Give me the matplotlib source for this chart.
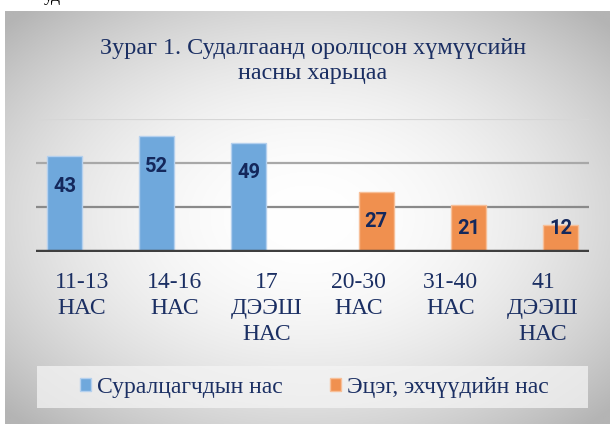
import numpy as np
import matplotlib
matplotlib.use("Agg")
import matplotlib.pyplot as plt
from matplotlib.patches import Patch, Rectangle
from matplotlib.font_manager import FontProperties

# ---- data ----
categories = ["11-13\nНАС", "14-16\nНАС", "17\nДЭЭШ\nНАС",
              "20-30\nНАС", "31-40\nНАС", "41\nДЭЭШ\nНАС"]
students = [43, 52, 49, 0, 0, 0]
parents = [0, 0, 0, 27, 21, 12]
series_names = ["Суралцагчдын нас", "Эцэг, эхчүүдийн нас"]
title = "Зураг 1. Судалгаанд оролцсон хүмүүсийн\nнасны харьцаа"
y_ticks = [0, 20, 40, 60]

plt.rcParams["font.family"] = ["Liberation Serif", "DejaVu Serif"]

W, H = 610, 424
fig = plt.figure(figsize=(W / 100, H / 100), dpi=100)
fig.patch.set_facecolor("white")

navy = "#1b2f63"
fp_cat = FontProperties(family="Liberation Serif", size=17)
fp_leg = FontProperties(family="Liberation Serif", size=17)
fp_title = FontProperties(family="Liberation Serif", size=17.4)
fp_lab = FontProperties(family="Roboto", weight="bold", size=14.5)

# ---- background panel with radial gradient ----
bg = fig.add_axes([5 / W, 0, 1 - 5 / W, 1 - 11 / H])
bg.set_axis_off()
xs = np.linspace(5, W, 400)
ys = np.linspace(11, H, 300)
X, Y = np.meshgrid(xs, ys)
dx = (X - 307) / 305
dy = (Y - 218) / 206
val = 255 - 40 * (dx ** 2 + dy ** 2)
val = np.clip(val, 180, 255) / 255.0
img = np.dstack([val, val, val])
bg.imshow(img, extent=[0, 1, 0, 1], aspect="auto", origin="upper")
bg.set_xlim(0, 1)
bg.set_ylim(0, 1)

# tiny clipped text fragment at very top
fig.text(44 / W, 1 - 1 / H, "уд", fontproperties=FontProperties(family="Liberation Serif", size=13),
         color="black", va="baseline", ha="left")

# ---- main axes ----
ax = fig.add_axes([36 / W, (H - 251.5) / H, (589 - 36) / W, (251.5 - 118.6) / H])
ax.patch.set_alpha(0)
x = np.arange(len(categories))
w = 0.38
b1 = ax.bar(x - w / 2, students, w, color="#6fa8dc", edgecolor="#b4d0ee",
            linewidth=1, zorder=3)
b2 = ax.bar(x + w / 2, parents, w, color="#f0904f", edgecolor="#f7bf98",
            linewidth=1, zorder=3)

ax.set_xlim(-0.5, len(categories) - 0.5)
ax.set_ylim(0, 60)
ax.set_yticks(y_ticks)
ax.tick_params(axis="y", length=0, labelleft=False)
ax.tick_params(axis="x", length=0, pad=15)
for s in ax.spines.values():
    s.set_visible(False)

grid_colors = {20: "#8a8a8a", 40: "#a8a8a8", 60: "#d6d6d6"}
for t in y_ticks[1:]:
    ax.axhline(t, color=grid_colors[t], lw=1.6, zorder=1)
ax.axhline(0, color="#3f3f3f", lw=3.2, zorder=4)

ax.set_xticks(x)
ax.set_xticklabels(categories)
for lbl in ax.get_xticklabels():
    lbl.set_fontproperties(fp_cat)
    lbl.set_color(navy)
    lbl.set_linespacing(1.3)
    lbl.set_verticalalignment("top")

# data labels
for bars, vals in ((b1, students), (b2, parents)):
    for rect, v in zip(bars, vals):
        if v <= 0:
            continue
        ypos = max(v - 13.5, 10.5)
        ax.text(rect.get_x() + rect.get_width() / 2, ypos, str(v),
                ha="center", va="center", fontproperties=fp_lab,
                color="#14285c", zorder=5)

# ---- title ----
fig.text(313 / W, 1 - 61 / H, title, fontproperties=fp_title, color=navy,
         ha="center", va="center", linespacing=1.28)

# ---- legend ----
fig.patches.append(Rectangle((37 / W, 1 - 408 / H), 551 / W, 42 / H,
                             transform=fig.transFigure, facecolor="#f4f4f4",
                             alpha=0.75, edgecolor="none", zorder=1))
handles = [Patch(facecolor="#6fa8dc", edgecolor="#b4d0ee"),
           Patch(facecolor="#f0904f", edgecolor="#f7bf98")]
leg = fig.legend(handles, series_names, loc="center",
                 bbox_to_anchor=(314 / W, 1 - 387 / H), ncol=2, frameon=False,
                 prop=fp_leg,
                 handlelength=0.47, handleheight=0.47, handletextpad=0.25,
                 columnspacing=2.0, borderaxespad=0)
for t in leg.get_texts():
    t.set_color(navy)

fig.savefig("out.png", dpi=100)
